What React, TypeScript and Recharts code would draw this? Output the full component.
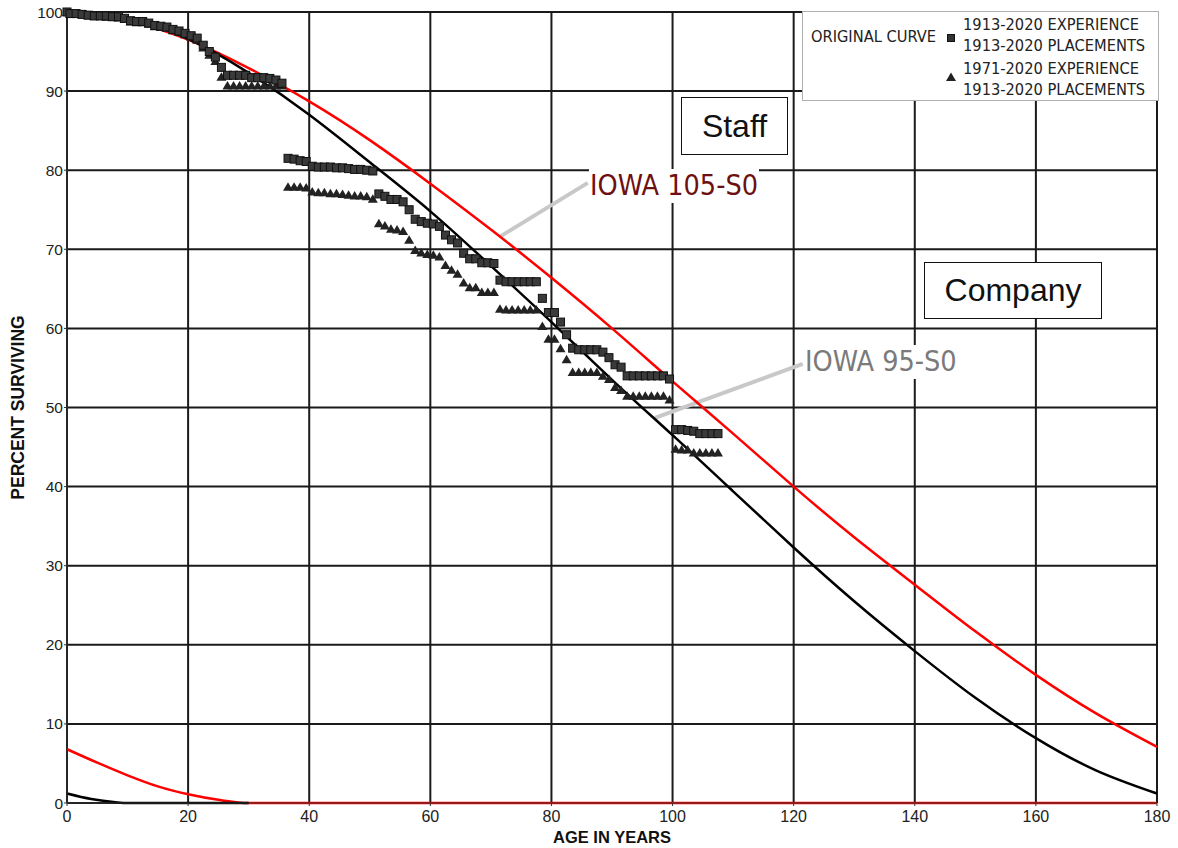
import React from "react";
import {
  ComposedChart,
  Line,
  Scatter,
  XAxis,
  YAxis,
  CartesianGrid,
  ReferenceLine,
} from "recharts";

// Iowa curves (age in years, percent surviving)
const curveAges = [0, 10, 20, 30, 40, 50, 60, 70, 80, 90, 100, 110, 120, 130, 140, 150, 160, 170, 180];
const iowa105 = [100, 98.9, 96.5, 92.9, 88.7, 83.8, 78.3, 72.5, 66.4, 60.0, 53.3, 46.7, 40.0, 33.6, 27.6, 21.7, 16.2, 11.3, 7.1];
const iowa95 = [100, 99.1, 96.6, 92.3, 87.0, 81.0, 74.8, 67.9, 60.8, 53.5, 46.5, 39.4, 32.3, 25.5, 19.2, 13.3, 8.2, 4.1, 1.2];

// tails drawn along the bottom
const tail105Ages = [0, 5, 10, 15, 20, 25, 30, 180];
const tail105 = [6.8, 5.1, 3.5, 2.1, 1.1, 0.4, 0, 0];
const tail95Ages = [0, 4, 8, 10, 30];
const tail95 = [1.2, 0.5, 0.1, 0, 0];

const pointAges = [
  0, 0.5, 1.5, 2.5, 3.5, 4.5, 5.5, 6.5, 7.5, 8.5, 9.5, 10.5, 11.5, 12.5, 13.5, 14.5, 15.5, 16.5, 17.5, 18.5, 19.5,
  20.5, 21.5, 22.5, 23.5, 24.5, 25.5, 26.5, 27.5, 28.5, 29.5, 30.5, 31.5, 32.5, 33.5, 34.5, 35.5, 36.5, 37.5, 38.5, 39.5,
  40.5, 41.5, 42.5, 43.5, 44.5, 45.5, 46.5, 47.5, 48.5, 49.5, 50.5, 51.5, 52.5, 53.5, 54.5, 55.5, 56.5, 57.5, 58.5, 59.5,
  60.5, 61.5, 62.5, 63.5, 64.5, 65.5, 66.5, 67.5, 68.5, 69.5, 70.5, 71.5, 72.5, 73.5, 74.5, 75.5, 76.5, 77.5, 78.5, 79.5,
  80.5, 81.5, 82.5, 83.5, 84.5, 85.5, 86.5, 87.5, 88.5, 89.5, 90.5, 91.5, 92.5, 93.5, 94.5, 95.5, 96.5, 97.5, 98.5, 99.5,
  100.5, 101.5, 102.5, 103.5, 104.5, 105.5, 106.5, 107.5,
];

// 1913-2020 experience (squares)
const exp1913 = [
  100, 99.8, 99.8, 99.7, 99.6, 99.5, 99.5, 99.5, 99.4, 99.4, 99.2, 98.9, 98.8, 98.8, 98.6, 98.3, 98.2, 98.1, 97.8, 97.6, 97.3,
  97.0, 96.7, 95.8, 95.0, 94.3, 93.0, 92.0, 92.0, 92.0, 92.0, 91.7, 91.7, 91.7, 91.6, 91.4, 91.0, 81.5, 81.4, 81.2, 81.1,
  80.5, 80.4, 80.4, 80.4, 80.3, 80.3, 80.2, 80.1, 80.1, 80.0, 79.9, 77.0, 76.7, 76.3, 76.3, 76.0, 75.0, 73.8, 73.5, 73.3,
  73.2, 72.9, 71.8, 71.2, 70.8, 69.5, 68.8, 68.8, 68.3, 68.3, 68.2, 66.1, 65.9, 65.9, 65.9, 65.9, 65.9, 65.9, 63.8, 62.0,
  62.0, 60.8, 59.2, 57.5, 57.3, 57.3, 57.3, 57.3, 57.0, 56.3, 55.4, 55.1, 54.0, 54.0, 54.0, 54.0, 54.0, 54.0, 54.0, 53.6,
  47.2, 47.2, 47.1, 47.0, 46.7, 46.7, 46.7, 46.7,
];

// 1971-2020 experience (triangles)
const exp1971 = [
  100, 99.8, 99.8, 99.7, 99.6, 99.5, 99.5, 99.4, 99.4, 99.3, 99.1, 98.8, 98.7, 98.7, 98.5, 98.2, 98.1, 98.0, 97.7, 97.5, 97.2,
  96.9, 96.5, 95.5, 94.6, 93.8, 91.8, 90.7, 90.7, 90.7, 90.7, 90.7, 90.7, 90.7, 90.7, 90.7, 90.7, 77.9, 77.9, 77.9, 77.8,
  77.3, 77.2, 77.2, 77.1, 77.1, 77.0, 76.9, 76.8, 76.8, 76.7, 76.4, 73.3, 73.0, 72.6, 72.5, 72.3, 71.2, 69.9, 69.6, 69.4,
  69.3, 69.1, 68.0, 67.4, 66.9, 65.8, 65.2, 65.2, 64.6, 64.6, 64.6, 62.5, 62.4, 62.4, 62.4, 62.4, 62.4, 62.4, 60.3, 58.7,
  58.7, 57.5, 56.1, 54.5, 54.5, 54.5, 54.5, 54.5, 54.0, 53.6, 52.6, 52.2, 51.5, 51.5, 51.5, 51.5, 51.5, 51.5, 51.5, 51.0,
  44.8, 44.7, 44.7, 44.3, 44.3, 44.3, 44.3, 44.3,
];

const xTicks = [0, 20, 40, 60, 80, 100, 120, 140, 160, 180];
const yTicks = [0, 10, 20, 30, 40, 50, 60, 70, 80, 90, 100];

const pts = (xs: number[], ys: number[]) => xs.map((x, i) => ({ x, y: ys[i] }));

const tahoma = "'DejaVu Sans Condensed', 'DejaVu Sans', sans-serif";
const arial = "'Liberation Sans', Arial, sans-serif";

const SquareMark = (p: any) => (
  <rect x={p.cx - 4} y={p.cy - 4} width={8} height={8} fill="#3a3a3a" stroke="#111" strokeWidth={1} />
);
const TriMark = (p: any) => (
  <polygon points={`${p.cx},${p.cy - 4.5} ${p.cx + 5},${p.cy + 4} ${p.cx - 5},${p.cy + 4}`} fill="#222" />
);

export default function App() {
  return (
    <div style={{ position: "absolute", left: 0, top: 0, width: 1178, height: 848, background: "#fff" }}>
      <ComposedChart width={1178} height={848} margin={{ top: 12, right: 21, left: 0, bottom: 0 }}>
        <CartesianGrid stroke="#1a1a1a" strokeWidth={2} />
        <XAxis
          type="number"
          dataKey="x"
          domain={[0, 180]}
          ticks={xTicks}
          interval={0}
          height={45}
          stroke="#333"
          tickSize={3}
          tickMargin={5}
          tick={{ fill: "#222", fontSize: 16, fontFamily: arial }}
          label={{
            value: "AGE IN YEARS",
            position: "insideBottom",
            offset: 5,
            style: { fill: "#111", fontSize: 16.5, fontWeight: "bold", fontFamily: arial },
          }}
        />
        <YAxis
          type="number"
          dataKey="y"
          domain={[0, 100]}
          ticks={yTicks}
          interval={0}
          width={67}
          stroke="#333"
          tickSize={3}
          tickMargin={1}
          tick={{ fill: "#222", fontSize: 15.5, fontFamily: arial }}
          label={{
            value: "PERCENT SURVIVING",
            angle: -90,
            position: "insideLeft",
            offset: 18,
            style: { fill: "#111", fontSize: 17.5, fontWeight: "bold", fontFamily: arial, textAnchor: "middle" },
          }}
        />
        <ReferenceLine
          segment={[{ x: 86.0, y: 78.4 }, { x: 71.5, y: 71.6 }]}
          stroke="#c8c8c8"
          strokeWidth={4}
          ifOverflow="visible"
        />
        <ReferenceLine
          segment={[{ x: 121.5, y: 55.5 }, { x: 97.1, y: 48.7 }]}
          stroke="#c8c8c8"
          strokeWidth={4}
          ifOverflow="visible"
        />
        <Line data={pts(tail105Ages, tail105)} dataKey="y" type="monotone" stroke="#ff0000" strokeWidth={2.5} dot={false} isAnimationActive={false} />
        <Line data={pts(tail95Ages, tail95)} dataKey="y" type="monotone" stroke="#000" strokeWidth={2.5} dot={false} isAnimationActive={false} />
        <Line data={pts(curveAges, iowa105)} dataKey="y" type="natural" stroke="#ff0000" strokeWidth={2.5} dot={false} isAnimationActive={false} />
        <Line data={pts(curveAges, iowa95)} dataKey="y" type="natural" stroke="#000" strokeWidth={2.5} dot={false} isAnimationActive={false} />
        <Scatter data={pts(pointAges, exp1971)} dataKey="y" shape={TriMark} isAnimationActive={false} />
        <Scatter data={pts(pointAges, exp1913)} dataKey="y" shape={SquareMark} isAnimationActive={false} />
      </ComposedChart>

      {/* legend box */}
      <div
        style={{
          position: "absolute",
          left: 802,
          top: 11,
          width: 355,
          height: 88,
          border: "1px solid #b0b0b0",
          background: "#fff",
          fontFamily: tahoma,
          fontStretch: "condensed",
          fontSize: 16.3,
          color: "#222",
          lineHeight: "20px",
        }}
      >
        <div style={{ position: "absolute", left: 8, top: 15 }}>ORIGINAL CURVE</div>
        <div style={{ position: "absolute", left: 144, top: 22, width: 8, height: 8, background: "#333", border: "1px solid #111", boxSizing: "border-box" }} />
        <div style={{ position: "absolute", left: 160, top: 3 }}>1913-2020 EXPERIENCE</div>
        <div style={{ position: "absolute", left: 160, top: 24 }}>1913-2020 PLACEMENTS</div>
        <svg style={{ position: "absolute", left: 142, top: 60 }} width={12} height={10}>
          <polygon points="6,0.5 11,9 1,9" fill="#222" />
        </svg>
        <div style={{ position: "absolute", left: 160, top: 47 }}>1971-2020 EXPERIENCE</div>
        <div style={{ position: "absolute", left: 160, top: 68 }}>1913-2020 PLACEMENTS</div>
      </div>

      {/* curve labels */}
      <div
        style={{
          position: "absolute",
          left: 589,
          top: 169,
          fontFamily: tahoma,
          fontStretch: "condensed",
          fontSize: 28.5,
          color: "#6e1010",
          background: "#fff",
          lineHeight: "34px",
          padding: "0 1px",
        }}
      >
        IOWA 105-S0
      </div>
      <div
        style={{
          position: "absolute",
          left: 804,
          top: 345,
          fontFamily: tahoma,
          fontStretch: "condensed",
          fontSize: 28.5,
          color: "#7a7a7a",
          background: "#fff",
          lineHeight: "34px",
          padding: "0 1px",
        }}
      >
        IOWA 95-S0
      </div>

      {/* text boxes */}
      <div
        style={{
          position: "absolute",
          left: 681,
          top: 97,
          width: 105,
          height: 56,
          border: "1.5px solid #111",
          background: "#fff",
          fontFamily: arial,
          fontSize: 32,
          display: "flex",
          alignItems: "center",
          justifyContent: "center",
          color: "#111",
        }}
      >
        Staff
      </div>
      <div
        style={{
          position: "absolute",
          left: 924,
          top: 262,
          width: 176,
          height: 55,
          border: "1.5px solid #111",
          background: "#fff",
          fontFamily: arial,
          fontSize: 32,
          display: "flex",
          alignItems: "center",
          justifyContent: "center",
          color: "#111",
        }}
      >
        Company
      </div>
    </div>
  );
}
